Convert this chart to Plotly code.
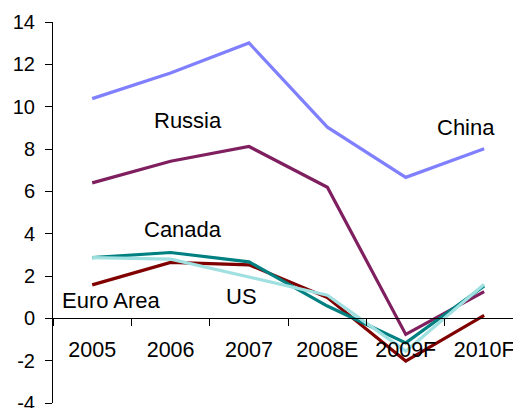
import plotly.graph_objects as go

categories = ["2005", "2006", "2007", "2008E", "2009F", "2010F"]
china = [10.38, 11.59, 13.01, 9.03, 6.66, 8.01]
russia = [6.40, 7.42, 8.12, 6.19, -0.76, 1.26]
euro_area = [1.58, 2.64, 2.53, 0.98, -2.02, 0.14]
canada = [2.87, 3.11, 2.67, 0.58, -1.16, 1.53]
us = [2.87, 2.80, 1.95, 1.09, -1.55, 1.61]
y_ticks = [-4, -2, 0, 2, 4, 6, 8, 10, 12, 14]
y_tick_text = ["-4", "-2", "0", "2", "4", "6", "8", "10", "12", "14"]

series = [
    ("China", china, "#8080FF"),
    ("Russia", russia, "#7F1F5F"),
    ("Euro Area", euro_area, "#800000"),
    ("Canada", canada, "#008080"),
    ("US", us, "#A0E0E0"),
]

fig = go.Figure()
for name, vals, col in series:
    fig.add_trace(go.Scatter(x=categories, y=vals, mode="lines",
                             name=name, line=dict(color=col, width=3.2)))

FONT = "Liberation Sans, Arial, sans-serif"
labels = [
    ("Russia", 1.22, 9.35),
    ("China", 4.77, 9.0),
    ("Canada", 1.16, 4.2),
    ("Euro Area", 0.25, 0.85),
    ("US", 1.9, 1.02),
]
for txt, x, y in labels:
    fig.add_annotation(x=x, y=y, text=txt, showarrow=False,
                       font=dict(family=FONT, size=22, color="black"))

# page body has an 8px default margin, so the figure is offset by 8px
fig.update_layout(
    width=513, height=400,
    margin=dict(l=45, r=0, t=14, b=5),
    plot_bgcolor="white", paper_bgcolor="white",
    showlegend=False,
    font=dict(family=FONT, size=21, color="black"),
    xaxis=dict(
        type="category",
        range=[-0.5, 5.47],
        tickson="boundaries",
        showgrid=False, zeroline=False,
        showline=True, linecolor="black", linewidth=1,
        anchor="free", position=4/18,
        ticks="outside", ticklen=7, tickcolor="black",
        ticklabelstandoff=12,
        tickfont=dict(size=21.5),
        automargin=False,
    ),
    yaxis=dict(
        range=[-4, 14], tickvals=y_ticks, ticktext=y_tick_text,
        showgrid=False, zeroline=False,
        showline=True, linecolor="black", linewidth=1,
        ticks="outside", ticklen=7, tickcolor="black",
        ticklabelstandoff=6, ticklabeloverflow="allow",
        tickfont=dict(size=20),
        automargin=False,
    ),
)

fig.write_html("out.html")
